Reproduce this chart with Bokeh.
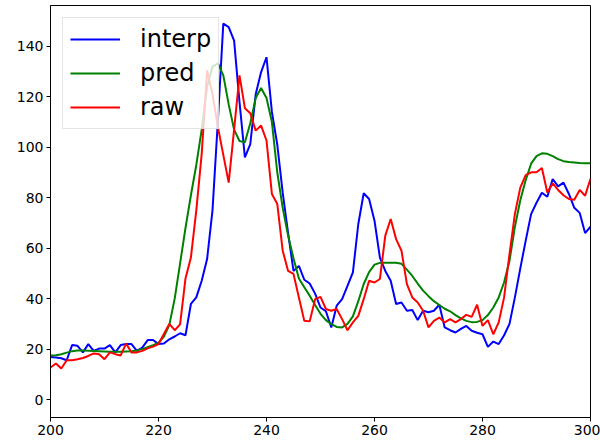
from bokeh.plotting import figure
from bokeh.models import Range1d, FixedTicker, Legend, LegendItem
from bokeh.embed import file_html
from bokeh.resources import INLINE

x = list(range(200, 301))

interp = [16.9, 16.7, 16.4, 15.6, 21.6, 21.3, 18.7, 22.0, 19.3, 20.2,
          20.2, 21.6, 18.7, 21.6, 22.0, 22.0, 19.3, 20.6, 23.6, 23.6,
          22.0, 22.2, 23.9, 25.0, 26.3, 25.5, 37.9, 40.5, 47.1, 55.7,
          75.0, 110.6, 149.0, 147.6, 142.3, 118.0, 96.0, 101.3, 121.0, 129.8,
          135.7, 114.0, 101.0, 82.0, 66.0, 51.0, 53.0, 47.5, 46.0, 42.0,
          36.5, 35.0, 28.6, 37.2, 39.8, 45.1, 50.4, 69.6, 81.8, 79.5,
          70.9, 56.3, 51.0, 47.1, 37.9, 38.5, 35.2, 35.5, 31.5, 35.2,
          34.6, 35.2, 37.6, 28.6, 27.5, 26.6, 28.0, 29.2, 27.3, 26.5,
          25.9, 20.9, 23.0, 22.0, 25.5, 30.0, 40.5, 52.0, 63.0, 73.5,
          78.0, 82.0, 80.4, 87.4, 84.5, 86.0, 81.5, 76.0, 74.0, 66.0,
          68.5]

pred = [17.5, 17.6, 18.0, 18.6, 19.2, 19.5, 19.5, 19.4, 19.3, 19.2,
        19.1, 19.0, 19.0, 19.0, 19.1, 19.2, 19.5, 20.0, 20.8, 21.6,
        22.5, 25.0, 29.5, 40.0, 54.0, 68.0, 81.0, 93.0, 107.0, 124.0,
        132.0, 133.3, 128.5, 117.0, 107.0, 102.5, 102.0, 109.5, 119.5, 123.5,
        119.5, 110.0, 90.0, 76.0, 65.0, 56.0, 48.0, 44.5, 41.2, 37.5,
        34.0, 31.5, 29.9, 28.8, 28.6, 30.0, 33.0, 39.0, 45.8, 50.5,
        53.5, 54.2, 54.2, 54.2, 54.2, 53.8, 51.5, 49.0, 46.0, 43.2,
        41.0, 39.0, 37.5, 36.0, 35.0, 33.5, 32.2, 31.2, 30.7, 30.8,
        31.5, 33.5, 36.5, 40.5, 46.5, 55.0, 68.5, 79.0, 87.0, 93.5,
        96.5, 97.6, 97.4, 96.5, 95.3, 94.5, 94.2, 94.0, 93.8, 93.7,
        93.7]

raw = [12.7, 14.3, 12.3, 15.6, 15.6, 16.0, 16.5, 17.3, 18.3, 18.0,
       16.0, 18.7, 18.0, 17.5, 22.2, 18.7, 18.7, 19.3, 20.3, 21.0,
       22.0, 26.0, 30.0, 27.5, 29.8, 48.0, 56.3, 75.0, 97.4, 130.4,
       121.0, 108.0, 97.0, 86.0, 107.0, 128.5, 115.5, 113.5, 106.6, 108.6,
       102.7, 81.5, 77.5, 59.0, 51.0, 49.8, 40.5, 31.2, 31.0, 39.8,
       40.7, 35.9, 35.2, 35.9, 31.9, 27.5, 30.6, 33.2, 39.8, 47.1,
       46.4, 47.8, 65.0, 71.6, 63.6, 59.0, 45.8, 40.5, 38.5, 35.2,
       28.6, 31.2, 32.5, 30.6, 31.9, 30.6, 31.9, 33.6, 32.8, 37.6,
       29.2, 31.5, 25.9, 30.6, 40.5, 57.7, 73.6, 84.0, 89.0, 90.1,
       90.1, 91.8, 82.1, 85.7, 83.1, 81.0, 79.5, 79.2, 83.1, 80.8,
       87.5]

x_ticks = [200, 220, 240, 260, 280, 300]
y_ticks = [0, 20, 40, 60, 80, 100, 120, 140]

p = figure(width=600, height=447, output_backend="svg", toolbar_location=None,
           x_range=Range1d(200, 300), y_range=Range1d(-7.1, 156.2),
           min_border_left=50, min_border_right=10, min_border_top=5,
           min_border_bottom=30)

r1 = p.line(x, interp, line_color="#0000ff", line_width=2)
r2 = p.line(x, pred, line_color="#008000", line_width=2)
r3 = p.line(x, raw, line_color="#ff0000", line_width=2)

p.xgrid.visible = False
p.ygrid.visible = False
p.outline_line_color = "black"
p.outline_line_width = 1
p.background_fill_color = "white"
p.border_fill_color = "white"

for ax in (p.xaxis[0], p.yaxis[0]):
    ax.axis_line_color = "black"
    ax.major_tick_line_color = "black"
    ax.major_tick_out = 4
    ax.major_tick_in = 0
    ax.minor_tick_line_color = None
    ax.major_label_text_font = "DejaVu Sans"
    ax.major_label_text_font_size = "14px"
    ax.major_label_text_color = "black"
    ax.major_label_standoff = 3

p.xaxis[0].ticker = FixedTicker(ticks=x_ticks)
p.yaxis[0].ticker = FixedTicker(ticks=y_ticks)

legend = Legend(items=[LegendItem(label="interp", renderers=[r1]),
                       LegendItem(label="pred", renderers=[r2]),
                       LegendItem(label="raw", renderers=[r3])],
                location="top_left")
legend.margin = 12
legend.padding = 7
legend.spacing = 6
legend.glyph_width = 50
legend.glyph_height = 24
legend.label_height = 24
legend.label_standoff = 20
legend.label_text_font = "DejaVu Sans"
legend.label_text_font_size = "24px"
legend.label_text_color = "black"
legend.border_line_color = "#cccccc"
legend.border_line_width = 1
legend.background_fill_color = "white"
legend.background_fill_alpha = 0.8
p.add_layout(legend, "center")

open("out.html", "w").write(file_html(p, INLINE))
